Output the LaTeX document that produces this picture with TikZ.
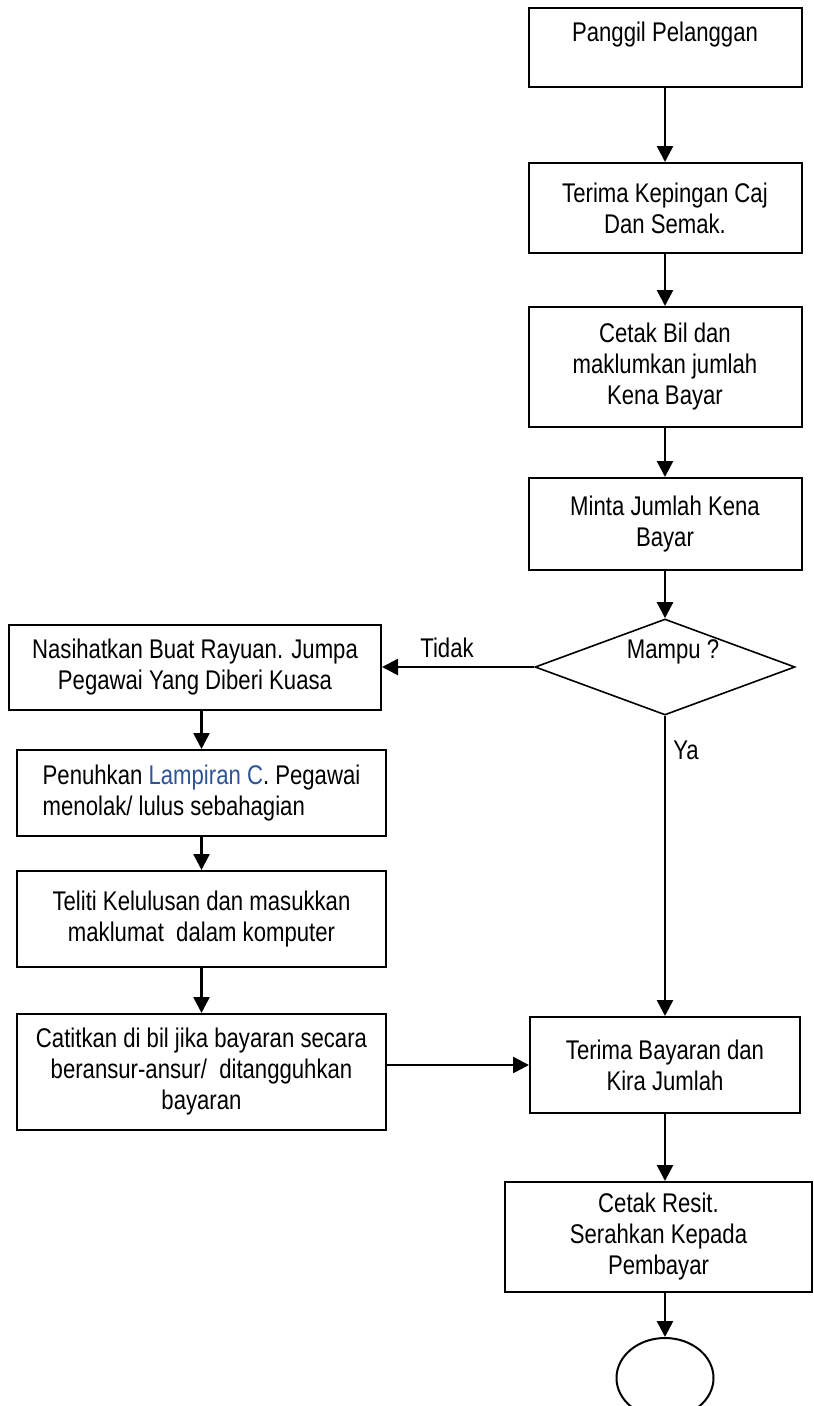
\documentclass[tikz,border=0pt]{standalone}
\usepackage{fontspec}
\setmainfont{Liberation Sans}[FakeStretch=0.82]
\usetikzlibrary{shapes.geometric,arrows.meta}
\definecolor{lampblue}{RGB}{46,84,150}
\begin{document}
\begin{tikzpicture}[x=1pt,y=-1pt,
  txt/.style={font=\fontsize{27}{31}\selectfont},
  box/.style={draw,line width=2pt,inner sep=0pt,align=center,txt},
  arr/.style={line width=2.5pt,-{Triangle[width=16pt,length=16pt]}}]
\useasboundingbox (0,0) rectangle (814,1406);
\clip (0,0) rectangle (814,1406);
% right column
\node[box,minimum width=273pt,minimum height=79pt] (b1) at (665,47.5) {Panggil Pelanggan\\ \mbox{}};
\node[box,minimum width=273pt,minimum height=90pt] (b2) at (665,208) {Terima Kepingan Caj\\Dan Semak.};
\node[box,minimum width=273pt,minimum height=120pt] (b3) at (665,367) {Cetak Bil dan\\maklumkan jumlah\\Kena Bayar};
\node[box,minimum width=273pt,minimum height=92pt] (b4) at (665,524) {Minta Jumlah Kena\\Bayar};
\node[draw,diamond,line width=1.6pt,inner sep=0pt,minimum width=260pt,minimum height=96pt] (d) at (665,667) {};
\node[txt] (dt) at (673,652) {Mampu ?};
\node[box,minimum width=270pt,minimum height=96pt] (r) at (665,1065) {Terima Bayaran dan\\Kira Jumlah};
\node[box,minimum width=307pt,minimum height=110pt] (s) at (658.5,1237) {Cetak Resit.\\Serahkan Kepada\\Pembayar};
\node[draw,ellipse,line width=2pt,minimum width=97pt,minimum height=80pt] (e) at (665,1378) {};
% left column
\node[box,minimum width=372pt,minimum height=85pt] (n) at (195,667) {Nasihatkan Buat Rayuan. Jumpa\\Pegawai Yang Diberi Kuasa};
\node[box,align=left,minimum width=369pt,minimum height=86pt] (p) at (201.5,793) {Penuhkan {\color{lampblue}Lampiran C}. Pegawai\\menolak/ lulus sebahagian};
\node[box,minimum width=369pt,minimum height=96pt] (t) at (201.5,919) {Teliti Kelulusan dan masukkan\\maklumat\ \ dalam komputer};
\node[box,minimum width=369pt,minimum height=116pt] (c) at (201.5,1072) {Catitkan di bil jika bayaran secara\\beransur-ansur/\ \ ditangguhkan\\bayaran};
% labels
\node[txt] (lt) at (447,648) {Tidak};
\node[txt] (ly) at (686,750) {Ya};
% connectors
\draw[arr] (b1) -- (b2);
\draw[arr] (b2) -- (b3);
\draw[arr] (b3) -- (b4);
\draw[arr] (b4) -- (d);
\draw[arr] (d.west) -- (n.east);
\draw[arr] (n.south -| p.north) -- (p.north);
\draw[arr] (p) -- (t);
\draw[arr] (t) -- (c);
\draw[arr] (c.east |- r.west) -- (r.west);
\draw[arr] (d.south) -- (r.north);
\draw[arr] (r.south) -- (r.south |- s.north);
\draw[arr] (s.south -| e.north) -- (e.north);
\end{tikzpicture}
\end{document}
